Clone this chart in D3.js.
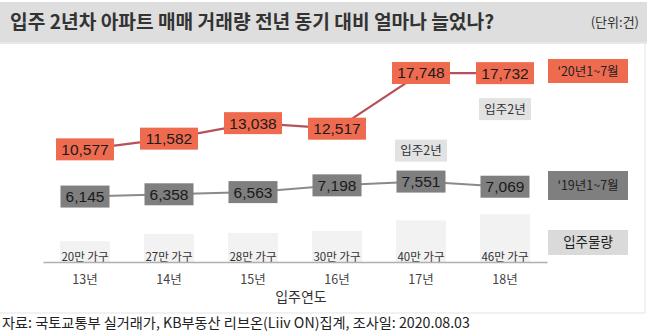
<!DOCTYPE html>
<html><head><meta charset="utf-8">
<script src="https://cdn.jsdelivr.net/npm/d3@7"></script>
<style>
html,body{margin:0;padding:0;background:#fff;}
svg{display:block;}
</style></head>
<body>
<svg id="c" width="647" height="334"></svg>
<script>
const years = ["13년","14년","15년","16년","17년","18년"];
const sales2020 = [10577, 11582, 13038, 12517, 17748, 17732];
const sales2019 = [6145, 6358, 6563, 7198, 7551, 7069];
const supply = [20, 27, 28, 30, 40, 46];
const seriesNames = ["'20년1~7월", "'19년1~7월", "입주물량"];
const callouts = [{year:"17년", series:"2019"}, {year:"18년", series:"2020"}];

const KR = "'Noto Sans CJK KR','Noto Sans',sans-serif";
const NUM = "'Liberation Sans',Arial,sans-serif";
const ORANGE = "#ef6b50", GREY = "#7f7f7f", LIGHT = "#f2f2f2";

const svg = d3.select("#c");
const fmt = d3.format(",");

// title band
svg.append("rect").attr("x",0).attr("y",2).attr("width",647).attr("height",40).attr("fill","#dedede");
svg.append("rect").attr("x",0).attr("y",42).attr("width",647).attr("height",2).attr("fill","#e9e9e9");
svg.append("text").attr("x",10).attr("y",28.5).attr("font-family",KR).attr("font-size",19.2)
  .attr("font-weight","bold").attr("fill","#333").text("입주 2년차 아파트 매매 거래량 전년 동기 대비 얼마나 늘었나?");
svg.append("text").attr("x",639).attr("y",27).attr("text-anchor","end").attr("font-family",KR)
  .attr("font-size",13).attr("fill","#333").text("(단위:건)");

// frame
svg.append("line").attr("x1",645).attr("x2",645).attr("y1",44).attr("y2",313).attr("stroke","#e3e3e3");
svg.append("line").attr("x1",0).attr("x2",645).attr("y1",313).attr("y2",313).attr("stroke","#e3e3e3");

const x = d3.scaleBand().domain(years).range([43, 547]);
const cx = d => x(d) + x.bandwidth()/2;
const y = d3.scaleLinear().domain([0, 20000]).range([262, 49]);
const h = d3.scaleLinear().domain([0, 50]).range([0, 52]);

// supply bars
const sb = svg.append("g");
sb.selectAll("rect").data(years).join("rect")
  .attr("x", d => cx(d) - 25).attr("width", 50)
  .attr("y", (d,i) => 262 - h(supply[i])).attr("height", (d,i) => h(supply[i]))
  .attr("fill", LIGHT);
sb.selectAll("text").data(years).join("text")
  .attr("x", d => cx(d)).attr("y", 261).attr("text-anchor","middle")
  .attr("font-family",KR).attr("font-size",11.5).attr("fill","#333")
  .text((d,i) => supply[i] + "만 가구");

// axis
const ax = svg.append("g").attr("transform","translate(0,262)")
  .call(d3.axisBottom(x).tickSize(0).tickPadding(13));
ax.select(".domain").attr("stroke","#b0b0b0").attr("stroke-width",1.5);
ax.selectAll("text").attr("font-family",KR).attr("font-size",12.5).attr("fill","#444");
svg.append("text").attr("x",301).attr("y",302).attr("text-anchor","middle")
  .attr("font-family",KR).attr("font-size",14).attr("fill","#333").text("입주연도");

// lines
const line = d3.line().x(d => cx(d[0])).y(d => y(d[1]));
svg.append("path").datum(years.map((d,i)=>[d,sales2019[i]])).attr("d",line)
  .attr("fill","none").attr("stroke","#8a8a8a").attr("stroke-width",2);
svg.append("path").datum(years.map((d,i)=>[d,sales2020[i]])).attr("d",line)
  .attr("fill","none").attr("stroke","#b85058").attr("stroke-width",2.2);

function boxes(vals, w, fill){
  const g = svg.append("g");
  g.selectAll("rect").data(years).join("rect")
    .attr("x", d => cx(d) - w/2).attr("y", (d,i) => y(vals[i]) - 11)
    .attr("width", w).attr("height", 22).attr("fill", fill);
  g.selectAll("text").data(years).join("text")
    .attr("x", d => cx(d)).attr("y", (d,i) => y(vals[i]) + 5.5).attr("text-anchor","middle")
    .attr("font-family",NUM).attr("font-size",15.5).attr("fill","#1a1a1a")
    .text((d,i) => fmt(vals[i]));
}
boxes(sales2020, 58, ORANGE);
boxes(sales2019, 49, GREY);

// callouts
callouts.forEach(c => {
  const i = years.indexOf(c.year);
  const cy = c.series === "2019" ? y(sales2019[i]) - 31 : y(sales2020[i]) + 36;
  svg.append("rect").attr("x", cx(c.year) - 26).attr("y", cy - 11).attr("width",52).attr("height",22).attr("fill","#e2e2e2");
  svg.append("text").attr("x", cx(c.year)).attr("y", cy + 4.5).attr("text-anchor","middle")
    .attr("font-family",KR).attr("font-size",12.5).attr("fill","#333").text("입주2년");
});

// legend
const leg = [
  {name: seriesNames[0], fill: ORANGE, y: 59, h: 24, fs: 12.5},
  {name: seriesNames[1], fill: GREY, y: 171, h: 29, fs: 12.5},
  {name: seriesNames[2], fill: "#dadada", y: 230, h: 25, fs: 13.5}
];
leg.forEach(l => {
  svg.append("rect").attr("x",548).attr("y",l.y).attr("width",80).attr("height",l.h).attr("fill",l.fill);
  svg.append("text").attr("x",588).attr("y",l.y + l.h/2 + 4.5).attr("text-anchor","middle")
    .attr("font-family",KR).attr("font-size",l.fs).attr("fill","#222").text(l.name);
});

// source
svg.append("text").attr("x",2).attr("y",328).attr("font-family",KR).attr("font-size",14.2)
  .attr("fill","#222").text("자료: 국토교통부 실거래가, KB부동산 리브온(Liiv ON)집계, 조사일: 2020.08.03");
</script>
</body></html>
